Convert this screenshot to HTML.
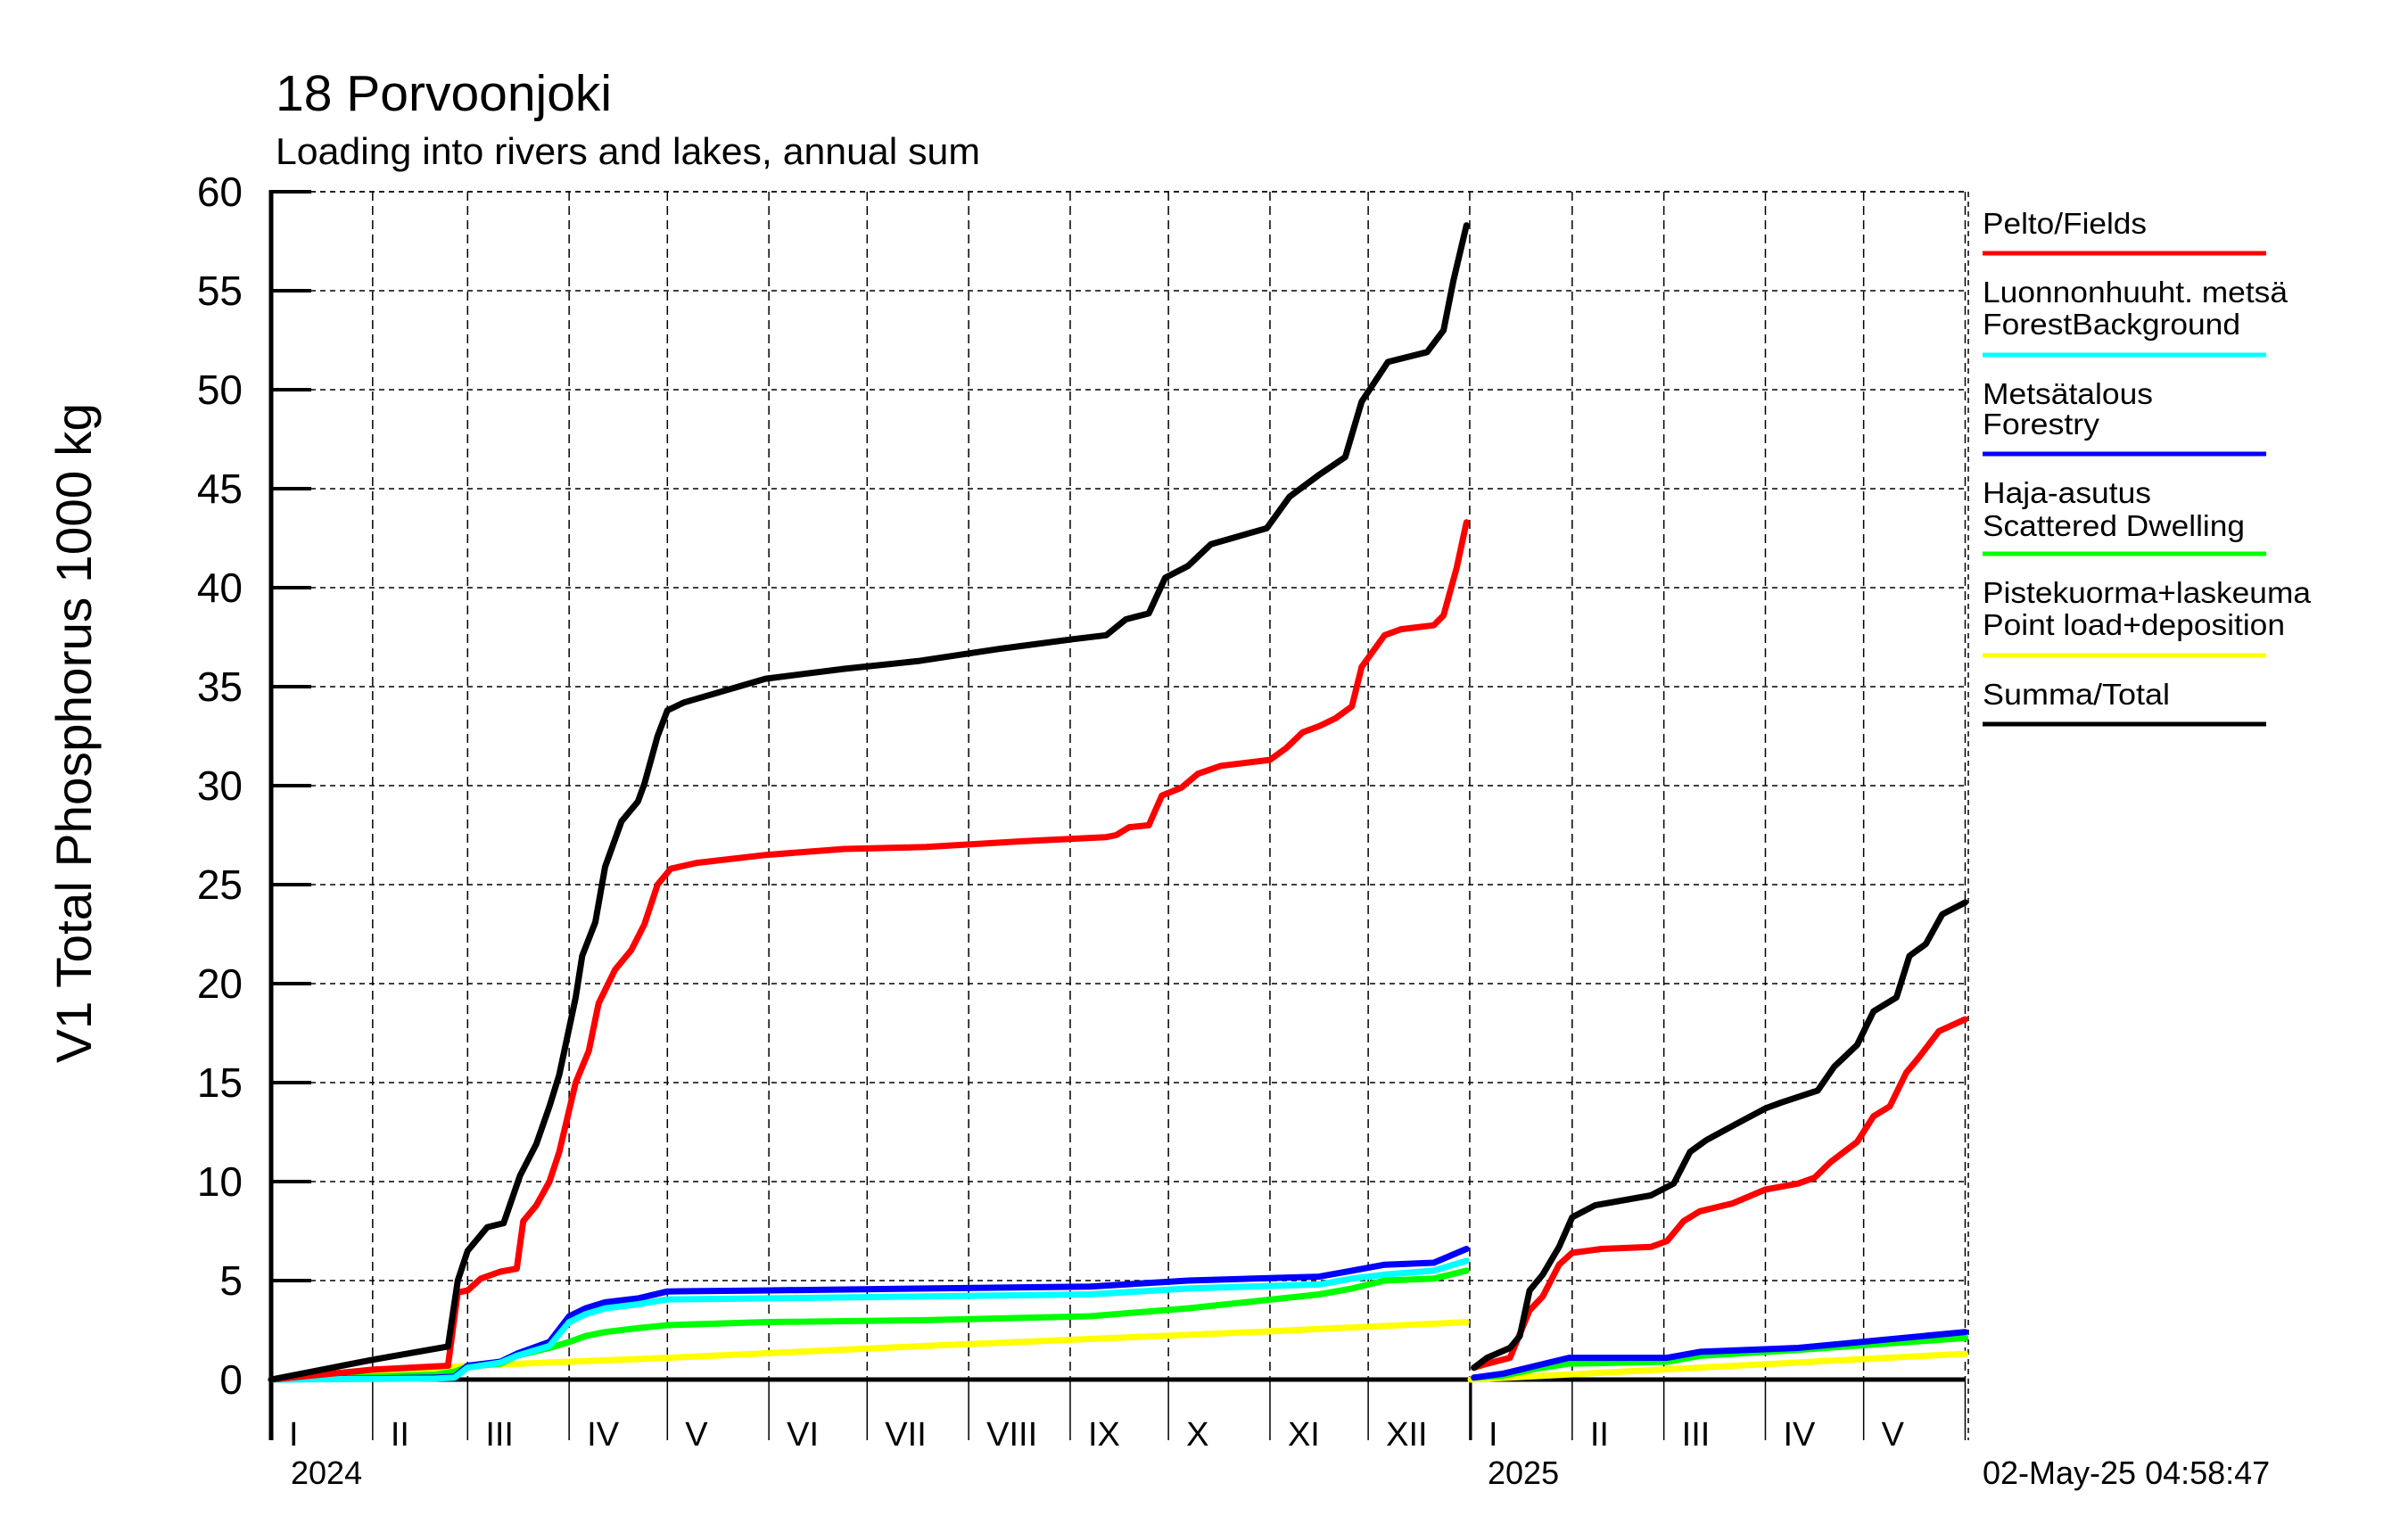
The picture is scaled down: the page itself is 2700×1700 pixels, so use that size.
<!DOCTYPE html>
<html><head><meta charset="utf-8"><style>
html,body{margin:0;padding:0;background:#fff;}
svg{display:block;font-family:"Liberation Sans",sans-serif;}
</style></head><body>
<svg id="chart" width="2700" height="1700" viewBox="0 0 2700 1700" xmlns="http://www.w3.org/2000/svg">
<text x="309" y="124" font-size="57">18 Porvoonjoki</text>
<text x="309" y="184" font-size="42" textLength="790" lengthAdjust="spacingAndGlyphs">Loading into rivers and lakes, annual sum</text>
<text x="0" y="0" font-size="56" text-anchor="middle" textLength="740" lengthAdjust="spacingAndGlyphs" transform="translate(102,822) rotate(-90)">V1 Total Phosphorus 1000 kg</text>
<g id="grid"></g>
<g id="axes"></g>
<g id="series"></g>
<g id="legend"></g>
<text x="326" y="1664" font-size="36">2024</text>
<text x="1668" y="1664" font-size="36">2025</text>
<text x="2223" y="1664" font-size="36">02-May-25 04:58:47</text>
</svg>
<script>
const yTicks = [0,5,10,15,20,25,30,35,40,45,50,55,60];
const monthLabels = ["I","II","III","IV","V","VI","VII","VIII","IX","X","XI","XII"];
const monthStarts2024 = [0,31,60,91,121,152,182,213,244,274,305,335,366];
const monthLabels2025 = ["I","II","III","IV","V"];
const monthStarts2025 = [0,31,59,90,120,151];

// 2024 series (day of year, value in 1000 kg)
const days24Total = [0,31,54,57,60,66,71,76,81,85,88,93,95,99,102,107,112,114,118,121,126,151,175,198,222,245,255,261,268,273,280,287,304,311,320,328,333,341,353,358,361,365];
const total24 =     [0,1.0,1.67,5.0,6.5,7.7,7.9,10.3,11.9,13.8,15.4,19.3,21.4,23.1,25.9,28.2,29.2,30.1,32.5,33.8,34.2,35.4,35.9,36.3,36.9,37.4,37.6,38.4,38.7,40.5,41.1,42.2,43.0,44.6,45.7,46.6,49.4,51.4,51.9,53.0,55.5,58.3];
const days24Fields = [0,31,54,57,60,64,70,75,77,81,85,88,93,97,100,105,110,114,118,122,130,151,175,200,230,255,258,262,268,272,278,283,290,305,310,315,320,325,330,333,340,345,355,358,362,365];
const fields24 =     [0,0.5,0.7,4.4,4.5,5.1,5.45,5.6,8.0,8.8,10.0,11.5,15.0,16.6,19.0,20.7,21.7,23.0,25.0,25.8,26.1,26.5,26.8,26.9,27.2,27.4,27.5,27.9,28.0,29.5,29.9,30.6,31.0,31.3,31.9,32.7,33.0,33.4,34.0,36.0,37.6,37.9,38.1,38.6,41.0,43.3];
const days24Small = [0,50,56,60,70,75,85,91,96,102,112,121,150,200,250,280,320,330,340,355,365];
const forestry24 =  [0,0.1,0.15,0.7,0.9,1.3,1.9,3.2,3.6,3.9,4.1,4.45,4.5,4.6,4.7,5.0,5.2,5.5,5.8,5.9,6.6];
const background24 =[0,0.05,0.1,0.6,0.85,1.2,1.7,2.9,3.3,3.6,3.8,4.05,4.1,4.2,4.3,4.6,4.8,5.1,5.3,5.5,6.0];
const dwelling24 =  [0,0.25,0.4,0.65,0.8,1.2,1.6,1.9,2.2,2.4,2.6,2.75,2.9,3.0,3.2,3.6,4.3,4.6,5.0,5.1,5.5];
const days24Point = [0,60,121,200,300,365];
const point24 =     [0,0.7,1.1,1.7,2.4,2.9];

// 2025 series (day of year)
const days25Total = [1,5,12,15,18,22,27,31,38,55,62,67,72,81,90,95,106,111,118,123,130,134,139,144,151];
const total25 =     [0.6,1.1,1.6,2.2,4.5,5.3,6.7,8.2,8.8,9.3,9.9,11.5,12.1,12.9,13.7,14.0,14.6,15.8,16.9,18.6,19.3,21.4,22.0,23.5,24.1];
const days25Fields = [1,5,12,18,22,27,31,40,55,60,65,70,80,90,100,105,110,118,123,128,133,137,143,151];
const fields25 =     [0.6,0.8,1.1,3.5,4.2,5.8,6.4,6.6,6.7,7.0,8.0,8.5,8.9,9.6,9.9,10.2,11.0,12.0,13.3,13.8,15.5,16.3,17.6,18.2];
const days25Small = [1,10,20,30,60,70,100,151];
const forestry25 =  [0.1,0.3,0.7,1.1,1.1,1.4,1.6,2.4];
const background25 =[0.1,0.25,0.6,0.95,1.0,1.3,1.5,2.2];
const dwelling25 =  [0.1,0.2,0.55,0.8,0.9,1.2,1.5,2.1];
const days25Point = [0,151];
const point25 =     [0,1.3];

const X0 = 304, PXDAY = 3.672, X25 = 1649, XR = 2204;
const Y0 = 1547, PXUNIT = 22.2, YBOT = 1615;
function xs24(d){ return X0 + d*PXDAY; }
function xs25(d){ return X25 + d*PXDAY; }
function ys(v){ return Y0 - v*PXUNIT; }
const NS = "http://www.w3.org/2000/svg";
function mk(tag, parent, attrs){ const e=document.createElementNS(NS,tag); for(const k in attrs) e.setAttribute(k,attrs[k]); parent.appendChild(e); return e; }

const grid = document.getElementById('grid');
const axes = document.getElementById('axes');
const series = document.getElementById('series');
const legend = document.getElementById('legend');

yTicks.forEach(v=>{
  const y = ys(v);
  if (v>0){
    const g = mk('line', grid, {x1:X0, x2:XR, y1:y, y2:y, stroke:'#000','stroke-width':1.5,'stroke-dasharray':'6,5'});
    
    
    const t = mk('line', axes, {x1:X0, x2:X0+45, y1:y, y2:y, stroke:'#000','stroke-width':4});
    
    
  }
  const lab = mk('text', axes, {x:272, y:y+16, 'font-size':46, 'text-anchor':'end'});
  lab.textContent = v;
  
  
});

function months(starts, labels, xf, yr){
  starts.forEach((d,i)=>{
    const x = xf(d);
    if (i>0){
      const g = mk('line', grid, {x1:x, x2:x, y1:ys(60), y2:Y0, stroke:'#000','stroke-width':1.5,'stroke-dasharray':'10,6'});
      
      
    }
    const s = mk('line', axes, {x1:x, x2:x, y1:Y0, y2:YBOT, stroke:'#000','stroke-width':1.5});
    
    
    if (i < labels.length){
      const t = mk('text', axes, {x:x+20, y:1621, 'font-size':38});
      t.textContent = labels[i];
      
      
    }
  });
}
months(monthStarts2024, monthLabels, xs24, 2024);
months(monthStarts2025, monthLabels2025, xs25, 2025);

const rb = mk('line', grid, {x1:XR+3, x2:XR+3, y1:ys(60), y2:YBOT, stroke:'#000','stroke-width':1.5,'stroke-dasharray':'6,5'});


const tb = mk('line', grid, {x1:X0, x2:XR+3, y1:ys(60), y2:ys(60), stroke:'#000','stroke-width':1.5,'stroke-dasharray':'6,5'});



const la = mk('line', axes, {x1:X0, x2:X0, y1:ys(60)-2, y2:YBOT, stroke:'#000','stroke-width':5});


const dv = mk('line', axes, {x1:X25, x2:X25, y1:Y0, y2:YBOT, stroke:'#000','stroke-width':3});



function line(days, vals, xf, color, name, w){
  const pts = days.map((d,i)=> xf(d).toFixed(1)+','+ys(vals[i]).toFixed(1)).join(' ');
  const p = mk('polyline', series, {points:pts, fill:'none', stroke:color, 'stroke-width':w||7, 'stroke-linejoin':'round','stroke-linecap':'round'});
  
  
}
line(days24Point, point24, xs24, '#ffff00', 'line-point-load-2024');
line(days24Small, dwelling24, xs24, '#00ff00', 'line-scattered-dwelling-2024');
line(days24Small, forestry24, xs24, '#0000ff', 'line-forestry-2024');
line(days24Small, background24, xs24, '#00ffff', 'line-forest-background-2024');
line(days24Fields, fields24, xs24, '#ff0000', 'line-fields-2024');
line(days24Total, total24, xs24, '#000000', 'line-total-2024');
line(days25Point, point25, xs25, '#ffff00', 'line-point-load-2025');
line(days25Small, background25, xs25, '#00ffff', 'line-forest-background-2025');
line(days25Small, dwelling25, xs25, '#00ff00', 'line-scattered-dwelling-2025');
line(days25Small, forestry25, xs25, '#0000ff', 'line-forestry-2025');
line(days25Fields, fields25, xs25, '#ff0000', 'line-fields-2025');
line(days25Total, total25, xs25, '#000000', 'line-total-2025');

const xa = mk('line', axes, {x1:X0, x2:XR, y1:Y0, y2:Y0, stroke:'#000','stroke-width':5});



const legendLines = [
  {texts:[["Pelto/Fields",262,184]], y:284, c:'#ff0000', n:'fields'},
  {texts:[["Luonnonhuuht. metsä",339,342],["ForestBackground",375,289]], y:398, c:'#00ffff', n:'forest-background'},
  {texts:[["Metsätalous",453,191],["Forestry",487,131]], y:509, c:'#0000ff', n:'forestry'},
  {texts:[["Haja-asutus",564,189],["Scattered Dwelling",601,294]], y:621, c:'#00ff00', n:'scattered-dwelling'},
  {texts:[["Pistekuorma+laskeuma",676,368],["Point load+deposition",712,339]], y:735, c:'#ffff00', n:'point-load'},
  {texts:[["Summa/Total",790,210]], y:812, c:'#000000', n:'total'}
];
legendLines.forEach(e=>{
  const g = mk('g', legend, {});
  
  
  e.texts.forEach(t=>{
    const tx = mk('text', g, {x:2223, y:t[1], 'font-size':33, textLength:t[2], lengthAdjust:'spacingAndGlyphs'});
    tx.textContent = t[0];
    
    
  });
  const l = mk('line', g, {x1:2223, x2:2541, y1:e.y, y2:e.y, stroke:e.c, 'stroke-width':5});
  
  
});
</script>
</body></html>
